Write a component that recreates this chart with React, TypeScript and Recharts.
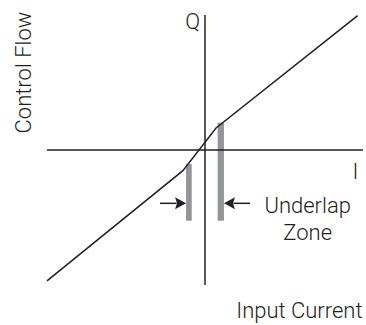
import React from "react";
import { LineChart, Line, XAxis, YAxis, ReferenceLine, ReferenceArea, ReferenceDot } from "recharts";

// flow vs current, kinked curve through the underlap zone
const currentValues = [-10, -1.4, 0.7, 9.66];
const flowValues = [-9.7, -1.53, 1.63, 9.95];

// underlap zone edges (current from/to, flow from/to)
const zoneBars = [
  { x1: -1.2, x2: -0.84, y1: -5.24, y2: -1.04 },
  { x1: 0.8, x2: 1.2, y1: -5.24, y2: 2.02 },
];

// arrows pointing at the zone
const zoneArrows = [
  { from: -2.85, to: -1.2, y: -3.95, dir: 1 },
  { from: 2.85, to: 1.2, y: -3.95, dir: -1 },
];

const annotations = [
  { text: "Q", x: -0.3, y: 9.0, anchor: "end", angle: 0 },
  { text: "I", x: 9.52, y: -2.15, anchor: "middle", angle: 0 },
  { text: "Underlap", x: 6.5, y: -4.63, anchor: "middle", angle: 0 },
  { text: "Zone", x: 6.5, y: -6.7, anchor: "middle", angle: 0 },
  { text: "Input Current", x: 9.97, y: -12.44, anchor: "end", angle: 0 },
  { text: "Control Flow", x: -11.04, y: 5.74, anchor: "middle", angle: -90 },
];

const curve = currentValues.map((x, i) => ({ x, y: flowValues[i] }));

const INK = "#231f20";
const FONT = "Roboto, sans-serif";

const Arrowhead = ({ cx, cy, dir }: any) => (
  <polygon
    points={`${cx},${cy} ${cx - dir * 11},${cy - 6} ${cx - dir * 9},${cy} ${cx - dir * 11},${cy + 6}`}
    fill={INK}
  />
);

const TextMark = ({ cx, cy, text, anchor, angle }: any) => (
  <text
    x={cx}
    y={cy}
    textAnchor={anchor}
    fontFamily={FONT}
    fontWeight={300}
    fontSize={22}
    fill={INK}
    transform={angle ? `rotate(${angle}, ${cx}, ${cy})` : undefined}
  >
    {text}
  </text>
);

export default function App() {
  return (
    <div style={{ position: "absolute", left: 0, top: 0, background: "#fff" }}>
      <LineChart width={366} height={325} data={curve} margin={{ top: 15, right: 3, bottom: 40, left: 47 }}>
        <XAxis type="number" dataKey="x" domain={[-10, 10]} hide />
        <YAxis type="number" domain={[-10, 10]} hide />
        <ReferenceLine x={0} stroke={INK} strokeWidth={1.5} />
        <ReferenceLine y={0} stroke={INK} strokeWidth={1.5} />
        {zoneBars.map((b, i) => (
          <ReferenceArea key={`bar-${i}`} {...b} fill="#939598" fillOpacity={1} stroke="none" />
        ))}
        <Line type="linear" dataKey="y" stroke={INK} strokeWidth={1.5} dot={false} isAnimationActive={false} />
        {zoneArrows.map((a, i) => (
          <ReferenceLine
            key={`shaft-${i}`}
            segment={[{ x: a.from, y: a.y }, { x: a.to - a.dir * 0.6, y: a.y }]}
            stroke={INK}
            strokeWidth={1.5}
          />
        ))}
        {zoneArrows.map((a, i) => (
          <ReferenceDot
            key={`head-${i}`}
            x={a.to}
            y={a.y}
            r={0}
            shape={(p: any) => <Arrowhead cx={p.cx} cy={p.cy} dir={a.dir} />}
          />
        ))}
        {annotations.map((t, i) => (
          <ReferenceDot
            key={`txt-${i}`}
            x={t.x}
            y={t.y}
            r={0}
            ifOverflow="visible"
            shape={(p: any) => <TextMark cx={p.cx} cy={p.cy} {...t} />}
          />
        ))}
      </LineChart>
    </div>
  );
}
